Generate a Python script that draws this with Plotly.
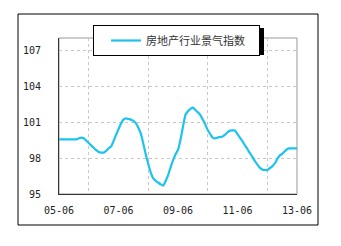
import plotly.graph_objects as go
import pandas as pd

start_month = "2005-06-01"
series_name = "房地产行业景气指数"
values = [
    99.55, 99.55, 99.55, 99.55, 99.55, 99.55, 99.55, 99.55, 99.65, 99.7,
    99.65, 99.45, 99.25, 99.05, 98.85, 98.65, 98.5, 98.45, 98.45, 98.6,
    98.8, 98.95, 99.4, 99.9, 100.4, 100.85, 101.2, 101.3, 101.25, 101.2,
    101.1, 100.9, 100.5, 100.05, 99.2, 98.3, 97.5, 96.8, 96.3, 96.1,
    95.95, 95.8, 95.7, 96.1, 96.6, 97.2, 97.8, 98.3, 98.67, 99.5,
    100.6, 101.6, 101.9, 102.1, 102.2, 102.0, 101.8, 101.6, 101.2, 100.8,
    100.33, 100.0, 99.7, 99.64, 99.7, 99.75, 99.8, 99.95, 100.15, 100.28,
    100.3, 100.3, 100.0, 99.7, 99.4, 99.05, 98.75, 98.4, 98.1, 97.75,
    97.45, 97.2, 97.05, 97.0, 97.0, 97.15, 97.3, 97.55, 97.9, 98.2,
    98.35, 98.55, 98.75, 98.8, 98.8, 98.8, 98.8,
]
dates = pd.date_range(start_month, periods=len(values), freq="MS")
y_ticks = [95, 98, 101, 104, 107]

W, H = 341, 246
L, R, T, B = 59, 44, 38, 52
pw, ph = W - L - R, H - T - B

def px_x(x):
    return (x - L) / pw

def px_y(y):
    return (H - B - y) / ph

fig = go.Figure()
fig.add_trace(go.Scatter(
    x=dates, y=values, mode="lines", name=series_name,
    line=dict(color="#1BC3EE", width=2.2, shape="spline", smoothing=0.4),
    showlegend=True,
))

grid = dict(showgrid=True, gridcolor="#C8C8C8", griddash="dot", gridwidth=1)
fig.update_layout(
    width=W, height=H,
    margin=dict(l=L, r=R, t=T, b=B),
    paper_bgcolor="white", plot_bgcolor="white",
    font=dict(family="DejaVu Sans Mono", size=10, color="#222"),
    xaxis=dict(
        type="date", range=[dates[0], dates[-1]],
        tick0=start_month, dtick="M24", tickformat="%y-%m",
        ticks="", showline=True, linecolor="#333", linewidth=1,
        showgrid=False, zeroline=False,
        minor=dict(dtick="M12", tick0=start_month, showgrid=True,
                   gridcolor="#C8C8C8", griddash="dot", ticks=""),
        ticklabelstandoff=7,
    ),
    yaxis=dict(
        range=[95, 108], tickvals=y_ticks, ticks="",
        showline=True, linecolor="#333", linewidth=1, zeroline=False,
        ticklabelstandoff=15, **grid,
    ),
    legend=dict(
        x=px_x(93), y=px_y(25), xanchor="left", yanchor="top",
        orientation="h", entrywidth=108, entrywidthmode="pixels",
        indentation=12,
        bgcolor="white", bordercolor="black", borderwidth=1,
        font=dict(family="Noto Sans CJK SC", size=11, color="#333"),
        itemwidth=30,
    ),
    shapes=[
        # outer frame
        dict(type="rect", xref="paper", yref="paper",
             x0=px_x(18), x1=px_x(318), y0=px_y(225), y1=px_y(14),
             line=dict(color="black", width=1), layer="below"),
        # plot-area top/right border
        dict(type="rect", xref="paper", yref="paper", x0=0, x1=1, y0=0, y1=1,
             line=dict(color="#999", width=1), layer="below"),
        # legend shadow
        dict(type="rect", xref="paper", yref="paper",
             x0=px_x(96), x1=px_x(264), y0=px_y(55), y1=px_y(28),
             fillcolor="black", line=dict(width=0), layer="above"),
    ],
)

fig.write_html("out.html")
